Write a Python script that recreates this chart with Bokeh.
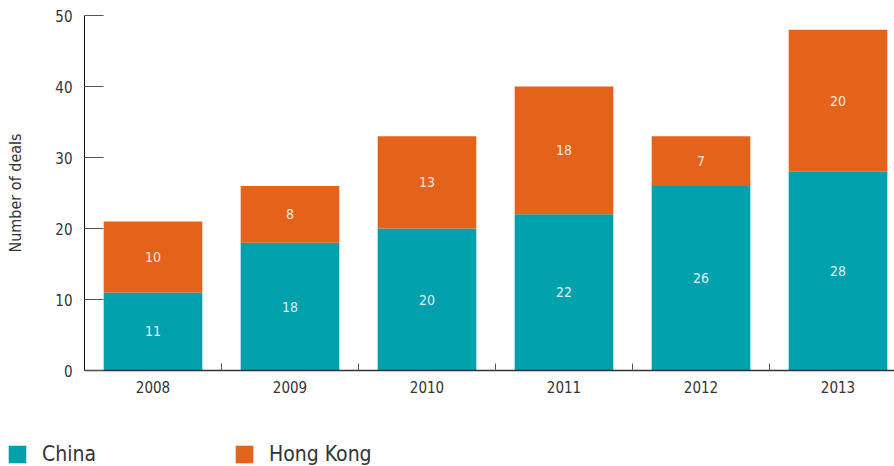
from bokeh.plotting import figure
from bokeh.models import (ColumnDataSource, Range1d, FixedTicker, Legend, LegendItem)
from bokeh.core.properties import value
from bokeh.embed import file_html
from bokeh.resources import INLINE

years = ["2008", "2009", "2010", "2011", "2012", "2013"]
china = [11, 18, 20, 22, 26, 28]
hong_kong = [10, 8, 13, 18, 7, 20]
y_ticks = [0, 10, 20, 30, 40, 50]
series_names = ["China", "Hong Kong"]

FONT = "DejaVu Sans Condensed, Roboto, sans-serif"
TEAL = "#00A0AD"
ORANGE = "#E5621B"

idx = list(range(len(years)))
src = ColumnDataSource(dict(
    x=idx, china=china, hk=hong_kong,
    china_mid=[c / 2 for c in china],
    hk_mid=[c + h / 2 for c, h in zip(china, hong_kong)],
    china_lab=[str(c) for c in china],
    hk_lab=[str(h) for h in hong_kong],
))

p = figure(width=894, height=400, output_backend="svg", toolbar_location=None,
           x_range=Range1d(-0.5, -0.5 + 810 / 137), y_range=Range1d(0, 50),
           min_border_left=84, min_border_right=0, min_border_top=15,
           min_border_bottom=30)
p.outline_line_color = None
p.grid.visible = False

rs = p.vbar_stack(["china", "hk"], x="x", width=0.72, source=src,
                  color=[TEAL, ORANGE], line_color=None)

for ycol, lab in (("china_mid", "china_lab"), ("hk_mid", "hk_lab")):
    p.text(x="x", y=ycol, text=lab, source=src, text_align="center",
           text_baseline="middle", text_font=value(FONT), text_font_size="14px",
           text_color="white", text_alpha=0.88)

# y axis
ya = p.yaxis[0]
ya.ticker = FixedTicker(ticks=y_ticks)
ya.minor_tick_line_color = None
ya.major_tick_in = 19
ya.major_tick_out = 0
ya.major_tick_line_color = "#555555"
ya.axis_line_color = "#111111"
ya.major_label_text_font = FONT
ya.major_label_text_font_size = "15px"
ya.major_label_text_color = "#333333"
ya.major_label_standoff = 12
ya.axis_label = "Number of deals"
ya.axis_label_text_font = FONT
ya.axis_label_text_font_size = "16px"
ya.axis_label_text_font_style = "normal"
ya.axis_label_text_color = "#333333"
ya.axis_label_standoff = 27

# x axis
xa = p.xaxis[0]
xa.ticker = FixedTicker(ticks=idx, minor_ticks=[i + 0.5 for i in idx])
xa.major_label_overrides = {i: y for i, y in zip(idx, years)}
xa.major_tick_line_color = None
xa.major_tick_in = 0
xa.major_tick_out = 0
xa.minor_tick_in = 7
xa.minor_tick_out = 0
xa.minor_tick_line_color = "#555555"
xa.axis_line_color = "#333333"
xa.axis_line_width = 1.5
xa.major_label_text_font = FONT
xa.major_label_text_font_size = "15px"
xa.major_label_text_color = "#333333"
xa.major_label_standoff = 10

# legend strip below the chart (separate root, so its frame starts at x=0)
pl = figure(width=894, height=66, output_backend="svg", toolbar_location=None,
            x_range=Range1d(-1, 0), y_range=Range1d(-1, 0),
            x_axis_type=None, y_axis_type=None,
            min_border_left=0, min_border_right=0, min_border_top=0,
            min_border_bottom=0)
pl.outline_line_color = None
pl.grid.visible = False
key_src = ColumnDataSource(dict(x=idx, china=china, hk=hong_kong))
keys = [pl.vbar(x="x", top=col, width=0.72, source=key_src, color=c,
                line_color=None, visible=False)
        for col, c in (("china", TEAL), ("hk", ORANGE))]

legend = Legend(items=[LegendItem(label=n, renderers=[r])
                       for n, r in zip(series_names, keys)],
                location=(6, 0), orientation="horizontal",
                glyph_width=22, glyph_height=22, label_standoff=14,
                label_width=191, spacing=0, padding=0, margin=0,
                label_text_font=FONT, label_text_font_size="21px",
                label_text_color="#333333",
                border_line_color=None, background_fill_alpha=0)
pl.add_layout(legend, "center")

open("out.html", "w").write(file_html([p, pl], INLINE))
